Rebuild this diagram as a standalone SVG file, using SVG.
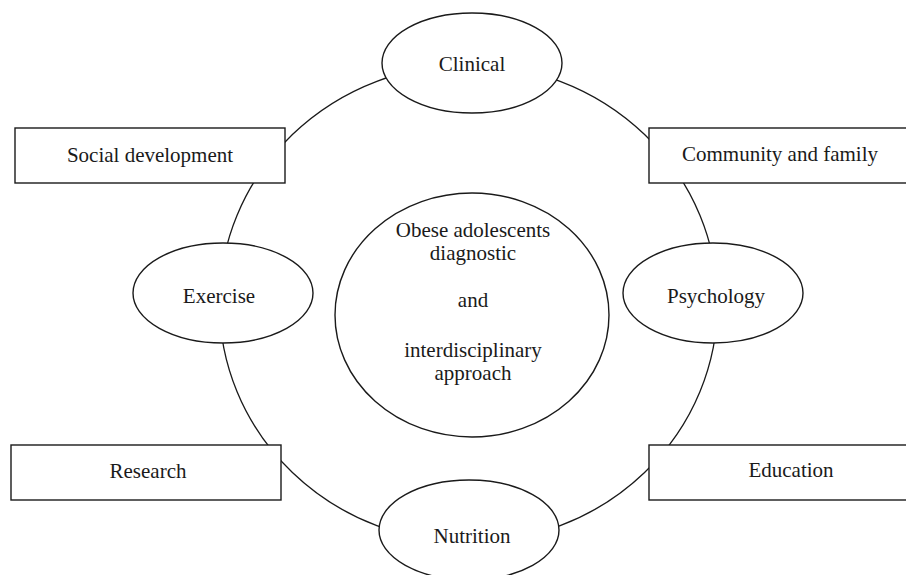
<svg xmlns="http://www.w3.org/2000/svg" width="906" height="575" viewBox="0 0 906 575">
<style>
.s{fill:#fff;stroke:#1a1a1a;stroke-width:1.4}
.r{fill:none;stroke:#1a1a1a;stroke-width:1.3}
text{font-family:"Liberation Serif","Times New Roman",serif;font-size:21px;fill:#1a1a1a;text-anchor:middle}
</style>
<rect width="906" height="575" fill="#fff"/>
<g id="connectors">
<ellipse class="r" cx="468.5" cy="303.5" rx="249" ry="239"/>
</g>
<g id="center">
<ellipse class="s" cx="472" cy="315" rx="137" ry="122"/>
<text x="473" y="237">Obese adolescents</text>
<text x="473" y="260">diagnostic</text>
<text x="473" y="307">and</text>
<text x="473" y="357">interdisciplinary</text>
<text x="473" y="380">approach</text>
</g>
<g id="clinical">
<ellipse class="s" cx="472" cy="63" rx="90" ry="50"/>
<text x="472" y="71">Clinical</text>
</g>
<g id="social">
<rect class="s" x="15" y="128" width="270" height="55"/>
<text x="150" y="162">Social development</text>
</g>
<g id="community">
<rect class="s" x="649" y="128" width="270" height="55"/>
<text x="780" y="161">Community and family</text>
</g>
<g id="exercise">
<ellipse class="s" cx="223" cy="293" rx="90" ry="50"/>
<text x="219" y="303">Exercise</text>
</g>
<g id="psychology">
<ellipse class="s" cx="713" cy="293" rx="90" ry="50"/>
<text x="716" y="303">Psychology</text>
</g>
<g id="research">
<rect class="s" x="11" y="445" width="270" height="55"/>
<text x="148" y="478">Research</text>
</g>
<g id="education">
<rect class="s" x="649" y="445" width="270" height="55"/>
<text x="791" y="477">Education</text>
</g>
<g id="nutrition">
<ellipse class="s" cx="469" cy="530" rx="90" ry="50"/>
<text x="472" y="543">Nutrition</text>
</g>
</svg>
